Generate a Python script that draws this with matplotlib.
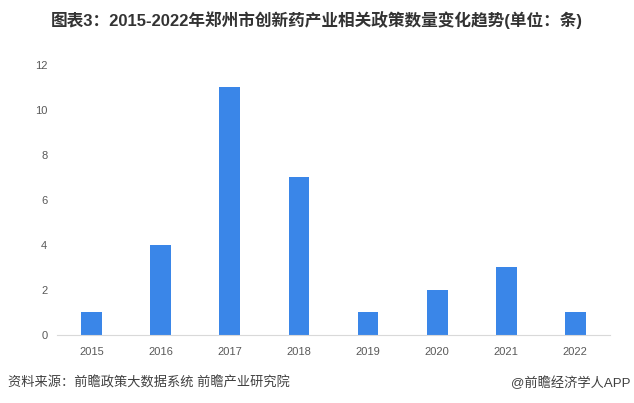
import matplotlib
matplotlib.use('Agg')
import matplotlib.pyplot as plt

plt.rcParams['font.family'] = ['Liberation Sans', 'Noto Sans CJK SC', 'DejaVu Sans']

## data
years = ['2015', '2016', '2017', '2018', '2019', '2020', '2021', '2022']
counts = [1, 4, 11, 7, 1, 2, 3, 1]
y_ticks = [0, 2, 4, 6, 8, 10, 12]

title = '图表3：2015-2022年郑州市创新药产业相关政策数量变化趋势(单位：条)'
source = '资料来源：前瞻政策大数据系统 前瞻产业研究院'
brand = '@前瞻经济学人APP'

fig = plt.figure(figsize=(6.34, 4.03), dpi=100)
ax = fig.add_axes([0.09, 0.169, 0.872, 0.67])

x = range(len(years))
ax.bar(x, counts, width=0.3, color='#3a86e8')

ax.set_xlim(-0.5, len(years) - 0.5)
ax.set_ylim(0, 12)
ax.set_xticks(list(x))
ax.set_xticklabels(years)
ax.set_yticks(y_ticks)

for s in ['top', 'right', 'left']:
    ax.spines[s].set_visible(False)
ax.spines['bottom'].set_color('#d9d9d9')
ax.tick_params(axis='both', length=0, colors='#595959', labelsize=8)
ax.tick_params(axis='x', pad=9)
ax.tick_params(axis='y', pad=7)

fig.text(0.5, 0.95, title, ha='center', va='center', fontsize=12,
         fontweight='bold', color='#333333')
fig.text(0.012, 0.05, source, ha='left', va='center', fontsize=9.5, color='#404040')
fig.text(0.995, 0.05, brand, ha='right', va='center', fontsize=9.5, color='#404040')

fig.savefig('out.png', dpi=100)
